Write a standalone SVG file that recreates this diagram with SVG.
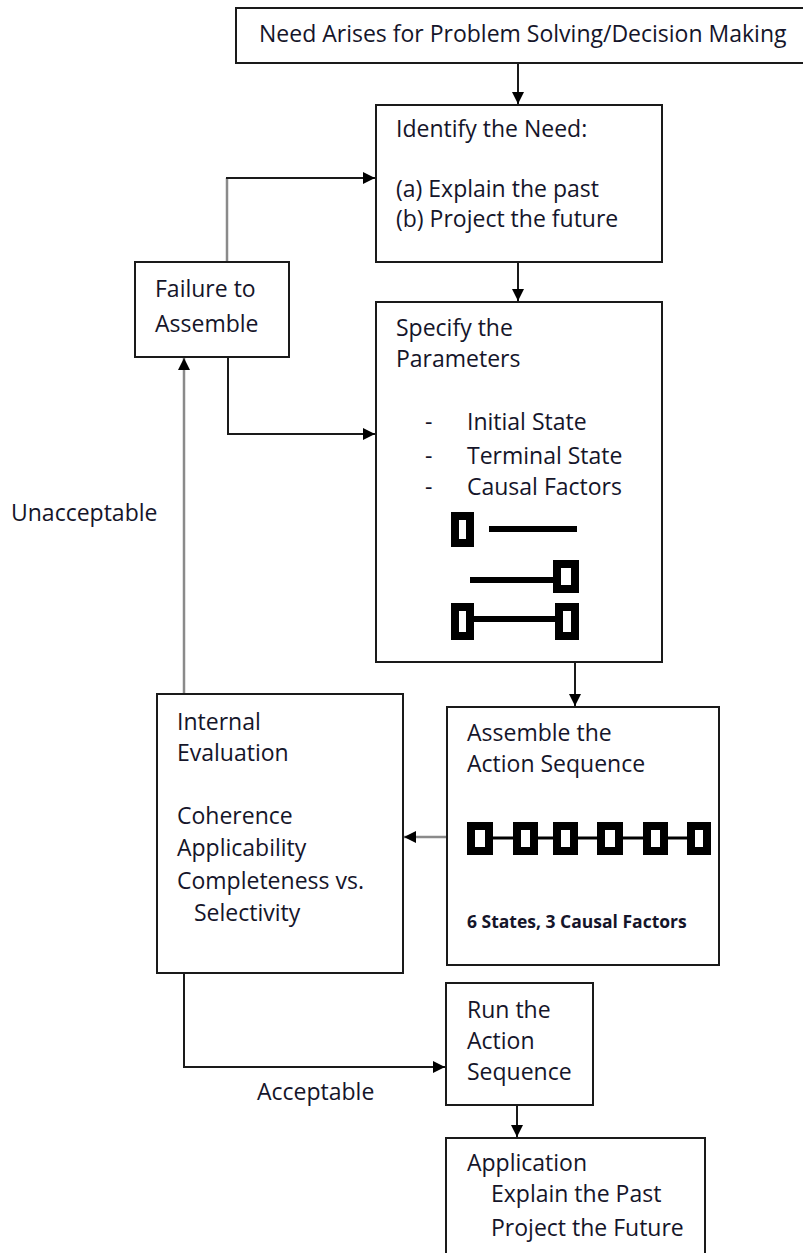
<svg xmlns="http://www.w3.org/2000/svg" width="803" height="1253" viewBox="0 0 803 1253">
<style>
.box{fill:#fff;stroke:#1a1a1a;stroke-width:2}
.t{font-family:"Open Sans","Liberation Sans",sans-serif;font-size:23px;fill:#15152a}
.sm{font-family:"Open Sans","Liberation Sans",sans-serif;font-size:17.5px;font-weight:bold;fill:#15152a}
.c{fill:none;stroke:#1a1a1a;stroke-width:2}
.g{fill:none;stroke:#8a8a8a;stroke-width:2.5}
.ic{fill:#fff;stroke:#000;stroke-width:8}
.il{stroke:#000;stroke-width:6}
.cl{stroke:#000;stroke-width:3}
</style>
<defs>
<marker id="ah" markerUnits="userSpaceOnUse" markerWidth="12" markerHeight="12" refX="12" refY="6" orient="auto">
<path d="M0,0 L12,6 L0,12 z" fill="#000"/>
</marker>
</defs>
<rect width="803" height="1253" fill="#fff"/>

<g id="connectors">
<line class="c" x1="518" y1="63" x2="518" y2="104" marker-end="url(#ah)"/>
<line class="c" x1="518" y1="262" x2="518" y2="301" marker-end="url(#ah)"/>
<line class="c" x1="575" y1="662" x2="575" y2="706" marker-end="url(#ah)"/>
<line class="g" x1="446" y1="837" x2="404" y2="837" marker-end="url(#ah)"/>
<line class="g" x1="184" y1="694" x2="184" y2="358" marker-end="url(#ah)"/>
<path class="g" d="M227,262 V178"/>
<path class="c" d="M226,178 H375" marker-end="url(#ah)"/>
<path class="c" d="M228,357 V434 H375" marker-end="url(#ah)"/>
<path class="c" d="M184,973 V1067 H445" marker-end="url(#ah)"/>
<line class="c" x1="517" y1="1105" x2="517" y2="1137" marker-end="url(#ah)"/>
<text class="t" x="11" y="521">Unacceptable</text>
<text class="t" x="257" y="1100">Acceptable</text>
</g>

<g id="need">
<rect class="box" x="236" y="8" width="570" height="55"/>
<text class="t" x="259" y="42">Need Arises for Problem Solving/Decision Making</text>
</g>

<g id="identify">
<rect class="box" x="376" y="105" width="286" height="157"/>
<text class="t" x="396" y="137">Identify the Need:</text>
<text class="t" x="396" y="197">(a) Explain the past</text>
<text class="t" x="396" y="227">(b) Project the future</text>
</g>

<g id="failure">
<rect class="box" x="135" y="262" width="154" height="95"/>
<text class="t" x="155" y="297">Failure to</text>
<text class="t" x="155" y="332">Assemble</text>
</g>

<g id="specify">
<rect class="box" x="376" y="302" width="286" height="360"/>
<text class="t" x="396" y="336">Specify the</text>
<text class="t" x="396" y="367">Parameters</text>
<text class="t" x="425" y="430">-</text>
<text class="t" x="467" y="430">Initial State</text>
<text class="t" x="425" y="464">-</text>
<text class="t" x="467" y="464">Terminal State</text>
<text class="t" x="425" y="495">-</text>
<text class="t" x="467" y="495">Causal Factors</text>
<rect class="ic" x="455" y="516" width="15" height="27"/>
<line class="il" x1="489" y1="529" x2="577" y2="529"/>
<line class="il" x1="470" y1="580" x2="557" y2="580"/>
<rect class="ic" x="557" y="564" width="18" height="25"/>
<line class="il" x1="474" y1="619" x2="555" y2="619"/>
<rect class="ic" x="455" y="607" width="15" height="29"/>
<rect class="ic" x="559" y="607" width="16" height="29"/>
</g>

<g id="assemble">
<rect class="box" x="447" y="707" width="272" height="258"/>
<text class="t" x="467" y="741">Assemble the</text>
<text class="t" x="467" y="772">Action Sequence</text>
<line class="cl" x1="480" y1="838" x2="700" y2="838"/>
<rect class="ic" x="471" y="826" width="18" height="25"/>
<rect class="ic" x="517" y="826" width="17" height="25"/>
<rect class="ic" x="557" y="826" width="17" height="25"/>
<rect class="ic" x="601" y="826" width="18" height="25"/>
<rect class="ic" x="647" y="826" width="17" height="25"/>
<rect class="ic" x="691" y="826" width="16" height="25"/>
<text class="sm" x="467" y="928">6 States, 3 Causal Factors</text>
</g>

<g id="internal">
<rect class="box" x="157" y="694" width="246" height="279"/>
<text class="t" x="177" y="730">Internal</text>
<text class="t" x="177" y="761">Evaluation</text>
<text class="t" x="177" y="824">Coherence</text>
<text class="t" x="177" y="856">Applicability</text>
<text class="t" x="177" y="889">Completeness vs.</text>
<text class="t" x="194" y="921">Selectivity</text>
</g>

<g id="run">
<rect class="box" x="446" y="983" width="147" height="122"/>
<text class="t" x="467" y="1018">Run the</text>
<text class="t" x="467" y="1049">Action</text>
<text class="t" x="467" y="1080">Sequence</text>
</g>

<g id="application">
<rect class="box" x="446" y="1138" width="259" height="140"/>
<text class="t" x="467" y="1171">Application</text>
<text class="t" x="491" y="1202">Explain the Past</text>
<text class="t" x="491" y="1236">Project the Future</text>
</g>
</svg>
